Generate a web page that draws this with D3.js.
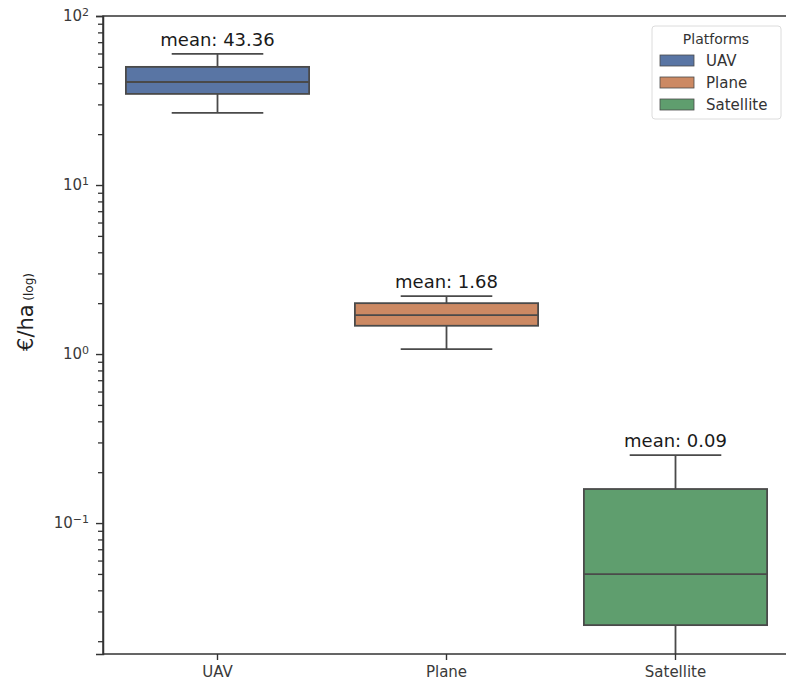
<!DOCTYPE html>
<html>
<head>
<meta charset="utf-8">
<script src="https://cdn.jsdelivr.net/npm/d3@7"></script>
<style>
  body { margin: 0; background: #fff; }
  svg { display: block; font-family: "DejaVu Sans", sans-serif; }
</style>
</head>
<body>
<div id="chart"></div>
<script>
// box statistics (log axis, €/ha)
const platforms = ["UAV", "Plane", "Satellite"];
const whiskerLow = [26.7, 1.07, 0.008];
const q1 = [34.6, 1.47, 0.0249];
const median = [40.7, 1.70, 0.0499];
const q3 = [50.0, 2.00, 0.159];
const whiskerHigh = [59.7, 2.20, 0.252];
const means = [43.36, 1.68, 0.09];
const colors = ["#5975a4", "#cc8963", "#5f9e6e"];
const majorTicks = [0.1, 1, 10, 100];

const W = 786, H = 684;
const margin = { top: 16, left: 103, bottom: 30 };
const plotRight = 790;
const plotBottom = H - margin.bottom;
const lineColor = "#4a4a4a";

const svg = d3.select("#chart").append("svg")
  .attr("width", W)
  .attr("height", H);

const x = d3.scaleBand()
  .domain(platforms)
  .range([margin.left, plotRight])
  .paddingInner(0)
  .paddingOuter(0);

const y = d3.scaleLog()
  .domain([0.0168, 100])
  .range([plotBottom, margin.top]);

// minor ticks 2..9 for each decade inside the domain
const minorTicks = [];
for (let e = -2; e <= 1; e++) {
  for (let m = 2; m <= 9; m++) {
    const v = m * Math.pow(10, e);
    if (v >= y.domain()[0] && v <= y.domain()[1]) minorTicks.push(v);
  }
}

svg.append("defs").append("clipPath").attr("id", "clip")
  .append("rect")
  .attr("x", margin.left)
  .attr("y", margin.top)
  .attr("width", plotRight - margin.left)
  .attr("height", plotBottom - margin.top);

// boxes
const g = svg.append("g").attr("clip-path", "url(#clip)");
const boxW = x.bandwidth() * 0.8;
const capW = boxW * 0.5;

const boxes = g.selectAll("g.box")
  .data(platforms)
  .join("g")
  .attr("class", "box");

boxes.each(function (p, i) {
  const cx = x(p) + x.bandwidth() / 2;
  const sel = d3.select(this);
  // whiskers
  sel.append("line")
    .attr("x1", cx).attr("x2", cx)
    .attr("y1", y(whiskerHigh[i])).attr("y2", y(q3[i]))
    .attr("stroke", lineColor).attr("stroke-width", 1.8);
  sel.append("line")
    .attr("x1", cx).attr("x2", cx)
    .attr("y1", y(q1[i])).attr("y2", y(whiskerLow[i]))
    .attr("stroke", lineColor).attr("stroke-width", 1.8);
  // caps
  [whiskerHigh[i], whiskerLow[i]].forEach(v => {
    sel.append("line")
      .attr("x1", cx - capW / 2).attr("x2", cx + capW / 2)
      .attr("y1", y(v)).attr("y2", y(v))
      .attr("stroke", lineColor).attr("stroke-width", 1.8);
  });
  // box
  sel.append("rect")
    .attr("x", cx - boxW / 2)
    .attr("y", y(q3[i]))
    .attr("width", boxW)
    .attr("height", y(q1[i]) - y(q3[i]))
    .attr("fill", colors[i])
    .attr("stroke", lineColor)
    .attr("stroke-width", 1.8);
  // median
  sel.append("line")
    .attr("x1", cx - boxW / 2).attr("x2", cx + boxW / 2)
    .attr("y1", y(median[i])).attr("y2", y(median[i]))
    .attr("stroke", lineColor).attr("stroke-width", 1.8);
});

// mean labels
svg.selectAll("text.mean")
  .data(platforms)
  .join("text")
  .attr("class", "mean")
  .attr("x", d => x(d) + x.bandwidth() / 2)
  .attr("y", (d, i) => y(whiskerHigh[i]) - 8)
  .attr("text-anchor", "middle")
  .attr("font-size", 18)
  .attr("fill", "#1a1a1a")
  .text((d, i) => "mean: " + means[i].toFixed(2));

// frame
svg.append("rect")
  .attr("x", margin.left)
  .attr("y", margin.top)
  .attr("width", plotRight - margin.left)
  .attr("height", plotBottom - margin.top)
  .attr("fill", "none")
  .attr("stroke", "#333")
  .attr("stroke-width", 1.5);

// y axis, minor ticks
svg.append("g")
  .attr("transform", `translate(${margin.left},0)`)
  .call(d3.axisLeft(y).tickValues(minorTicks).tickSize(5).tickFormat(""))
  .call(a => a.select(".domain").remove())
  .call(a => a.selectAll(".tick line").attr("stroke", "#333").attr("stroke-width", 1.3));

// y axis, major ticks with superscript labels
const yMajor = svg.append("g")
  .attr("transform", `translate(${margin.left},0)`)
  .call(d3.axisLeft(y).tickValues(majorTicks).tickSize(7).tickPadding(7).tickFormat(""))
  .call(a => a.select(".domain").attr("stroke", "#333").attr("stroke-width", 1.5))
  .call(a => a.selectAll(".tick line").attr("stroke", "#333").attr("stroke-width", 1.4));

yMajor.selectAll(".tick text")
  .attr("font-size", 15)
  .attr("fill", "#3a3a3a")
  .attr("font-family", "DejaVu Sans")
  .each(function (d) {
    const t = d3.select(this);
    const e = Math.round(Math.log10(d));
    t.append("tspan").text("10");
    t.append("tspan")
      .attr("dy", "-0.5em")
      .attr("font-size", 11)
      .text(e < 0 ? "\u2212" + Math.abs(e) : String(e));
  });

// x axis
svg.append("g")
  .attr("transform", `translate(0,${plotBottom})`)
  .call(d3.axisBottom(x).tickSize(6).tickPadding(6))
  .call(a => a.select(".domain").remove())
  .call(a => a.selectAll(".tick line").attr("stroke", "#333").attr("stroke-width", 1.4))
  .call(a => a.selectAll(".tick text")
    .attr("font-size", 15)
    .attr("fill", "#3a3a3a")
    .attr("font-family", "DejaVu Sans"));

// y label
const yLabel = svg.append("text")
  .attr("transform", "translate(33,312) rotate(-90)")
  .attr("text-anchor", "middle")
  .attr("fill", "#222");
yLabel.append("tspan").attr("font-size", 21).text("€/ha ");
yLabel.append("tspan").attr("font-size", 12).attr("dx", -3).text("(log)");

// legend
const lg = svg.append("g").attr("transform", "translate(652,26)");
lg.append("rect")
  .attr("width", 129)
  .attr("height", 93)
  .attr("rx", 3)
  .attr("fill", "#fff")
  .attr("stroke", "#dcdcdc");
lg.append("text")
  .attr("x", 64)
  .attr("y", 18)
  .attr("text-anchor", "middle")
  .attr("font-size", 14)
  .attr("fill", "#333")
  .text("Platforms");
const items = lg.selectAll("g.item")
  .data(platforms)
  .join("g")
  .attr("class", "item")
  .attr("transform", (d, i) => `translate(8,${29 + i * 22})`);
items.append("rect")
  .attr("width", 34)
  .attr("height", 11)
  .attr("fill", (d, i) => colors[i])
  .attr("stroke", lineColor)
  .attr("stroke-width", 0.8);
items.append("text")
  .attr("x", 46)
  .attr("y", 11)
  .attr("font-size", 15)
  .attr("fill", "#333")
  .text(d => d);
</script>
</body>
</html>
